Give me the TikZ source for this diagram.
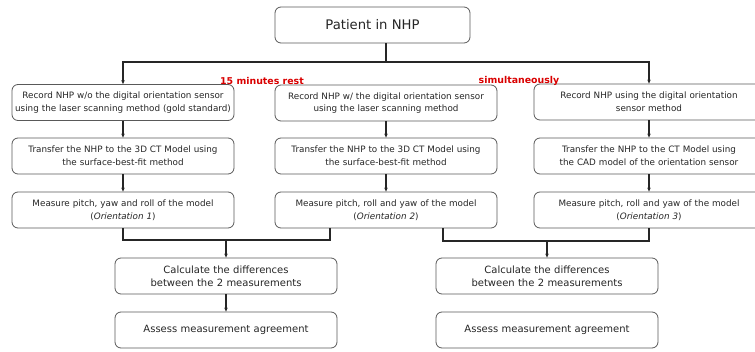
\documentclass[tikz,border=0pt]{standalone}
\usepackage{fontspec}
\setmainfont{DejaVu Sans}
\usetikzlibrary{arrows.meta}
\begin{document}
\begin{tikzpicture}[x=1pt,y=-1pt,
  box/.style={draw=black!65,line width=0.8pt,rounded corners=6pt,fill=white,
    text=black!85,align=center,inner sep=0pt,font=\fontsize{8.8}{12.8}\selectfont,
    minimum height=36pt},
  colbox/.style={box,minimum width=222pt,text width=220pt},
  rcolbox/.style={box,minimum width=230pt,text width=224pt},
  botbox/.style={box,minimum width=222pt,text width=218pt,font=\fontsize{10}{13}\selectfont},
  conn/.style={line width=1.4pt,black!85},
  arr/.style={conn,-{Stealth[length=4pt,width=3.5pt]}},
  redlab/.style={text=red!85!black,font=\bfseries\fontsize{9.4}{10}\selectfont,inner sep=0pt}]
\useasboundingbox (0,0) rectangle (755,352);
\node[box,minimum width=195pt,font=\fontsize{13.2}{15}\selectfont] (pat) at (372.5,25) {Patient in NHP};
% row 1
\node[colbox] (r1l) at (123,102.5) {Record NHP w/o the digital orientation sensor\\using the laser scanning method (gold standard)};
\node[colbox] (r1m) at (386,103) {Record NHP w/ the digital orientation sensor\\using the laser scanning method};
\node[rcolbox] (r1r) at (649,102) {Record NHP using the digital orientation\\sensor method};
% row 2
\node[colbox] (r2l) at (123,156) {Transfer the NHP to the 3D CT Model using\\the surface-best-fit method};
\node[colbox] (r2m) at (386,156) {Transfer the NHP to the 3D CT Model using\\the surface-best-fit method};
\node[rcolbox] (r2r) at (649,156) {Transfer the NHP to the CT Model using\\the CAD model of the orientation sensor};
% row 3
\node[colbox] (r3l) at (123,210) {Measure pitch, yaw and roll of the model\\(\textit{Orientation 1})};
\node[colbox] (r3m) at (386,210) {Measure pitch, roll and yaw of the model\\(\textit{Orientation 2})};
\node[rcolbox] (r3r) at (649,210) {Measure pitch, roll and yaw of the model\\(\textit{Orientation 3})};
% bottom
\node[botbox] (c1) at (226,276) {Calculate the differences\\between the 2 measurements};
\node[botbox] (a1) at (226,330) {Assess measurement agreement};
\node[botbox] (c2) at (547,276) {Calculate the differences\\between the 2 measurements};
\node[botbox] (a2) at (547,330) {Assess measurement agreement};
% connectors
\coordinate (j) at (386,62);
\draw[conn] (pat.south -| j) -- (j);
\draw[arr] (j) -| (r1l.north);
\draw[arr] (j) -| (r1r.north);
\draw[arr] (r1l) -- (r2l);
\draw[arr] (r1m) -- (r2m);
\draw[arr] (r1r) -- (r2r);
\draw[arr] (r2l) -- (r3l);
\draw[arr] (r2m) -- (r3m);
\draw[arr] (r2r) -- (r3r);
\coordinate (m1) at (226,240);
\coordinate (m2) at (547,241);
\draw[conn] (r3l.south) |- (m1) -| ([xshift=-56pt]r3m.south);
\draw[arr] (m1) -- (c1.north);
\draw[arr] (c1) -- (a1);
\draw[conn] ([xshift=57pt]r3m.south) |- (m2) -| (r3r.south);
\draw[arr] (m2) -- (c2.north);
% red labels
\node[redlab] (rest) at (262,80.5) {15 minutes rest};
\node[redlab] (simu) at (519,80.5) {simultaneously};
\end{tikzpicture}
\end{document}
